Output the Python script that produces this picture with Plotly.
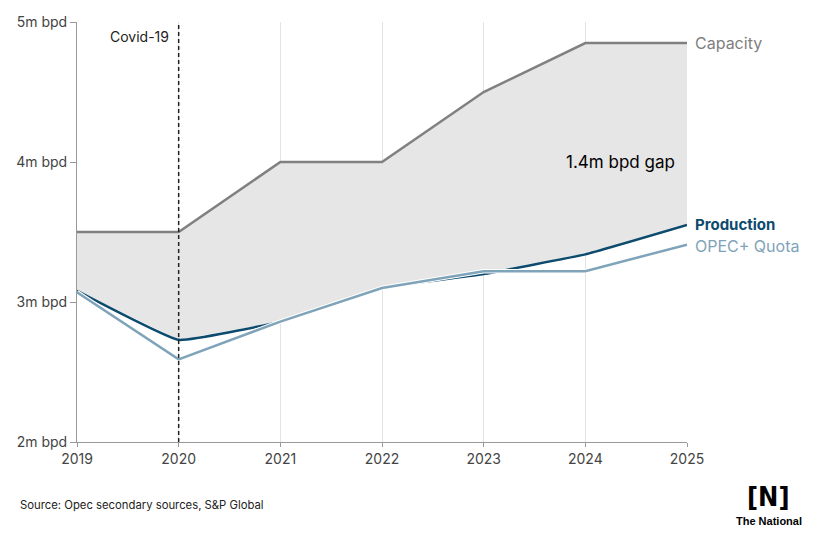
import plotly.graph_objects as go

years = [2019, 2020, 2021, 2022, 2023, 2024, 2025]
capacity = [3.5, 3.5, 4.0, 4.0, 4.5, 4.85, 4.85]
production = [3.08, 2.73, 2.86, 3.1, 3.2, 3.34, 3.55]
quota = [3.07, 2.59, 2.86, 3.1, 3.22, 3.22, 3.41]
y_ticks = [2, 3, 4, 5]
y_tick_labels = ["2m bpd", "3m bpd", "4m bpd", "5m bpd"]

CAP_C = "#808080"
PROD_C = "#0c4a6e"
QUOTA_C = "#7fa3b9"
FONT = "Inter"

fig = go.Figure()
# fill between capacity and production
fig.add_trace(go.Scatter(x=years, y=production, mode="lines",
                         line=dict(width=0, color=PROD_C), showlegend=False, hoverinfo="skip"))
fig.add_trace(go.Scatter(x=years, y=capacity, mode="lines", fill="tonexty",
                         fillcolor="#e6e6e6", line=dict(width=0, color=CAP_C),
                         showlegend=False, hoverinfo="skip"))
# lines
fig.add_trace(go.Scatter(x=years, y=capacity, mode="lines",
                         line=dict(width=2.5, color=CAP_C), showlegend=False))
fig.add_trace(go.Scatter(x=years, y=production, mode="lines",
                         line=dict(width=2.5, color=PROD_C, shape="spline", smoothing=0.3),
                         showlegend=False))
fig.add_trace(go.Scatter(x=years, y=quota, mode="lines",
                         line=dict(width=4.5, color="white"), showlegend=False, hoverinfo="skip"))
fig.add_trace(go.Scatter(x=years, y=quota, mode="lines",
                         line=dict(width=2.5, color=QUOTA_C), showlegend=False))

# covid line
fig.add_shape(type="line", x0=2020, x1=2020, y0=2, y1=5, xref="x", yref="y",
              line=dict(color="#222222", width=1.5, dash="4px,3px"))

annos = [
    dict(x=2020, y=4.9, text="Covid-19", xanchor="right", xshift=-8, font=dict(size=14, color="#222222")),
    dict(x=2025, y=capacity[-1], text="Capacity", xanchor="left", xshift=6, font=dict(size=16, color=CAP_C)),
    dict(x=2025, y=production[-1], text="<b>Production</b>", xanchor="left", xshift=6, yshift=1, font=dict(size=15, color=PROD_C)),
    dict(x=2025, y=quota[-1], text="OPEC+ Quota", xanchor="left", xshift=6, yshift=-1, font=dict(size=16, color=QUOTA_C)),
    dict(x=2024.9, y=4.0, text="1.4m bpd gap", xanchor="right", font=dict(size=17, color="#000000")),
]
for a in annos:
    fig.add_annotation(xref="x", yref="y", showarrow=False, yanchor="middle", **a)

fig.add_annotation(xref="paper", yref="paper", x=-0.097, y=-0.151, xanchor="left", yanchor="middle",
                   text="Source: Opec secondary sources, S&P Global", showarrow=False,
                   font=dict(size=11.3, color="#222222"))
# logo
fig.add_annotation(xref="paper", yref="paper", x=1.134, y=-0.129, xanchor="center", yanchor="middle",
                   text="<b>[N]</b>", showarrow=False,
                   font=dict(size=27, color="black", family="DejaVu Sans Condensed, DejaVu Sans"))
fig.add_annotation(xref="paper", yref="paper", x=1.134, y=-0.189, xanchor="center", yanchor="middle",
                   text="<b>The National</b>", showarrow=False,
                   font=dict(size=11, color="black", family="Liberation Sans"))

fig.update_layout(
    width=805, height=530,
    margin=dict(l=69, r=126, t=14, b=96),
    paper_bgcolor="white", plot_bgcolor="white",
    font=dict(family=FONT, color="#444444", size=13),
    xaxis=dict(range=[2019, 2025], tickvals=years, showgrid=True, gridcolor="#e3e3e3", gridwidth=1,
               showline=True, linecolor="#999999", linewidth=1, ticks="outside", ticklen=4,
               tickcolor="#999999", zeroline=False, automargin=False,
               tickfont=dict(size=14, color="#444444")),
    yaxis=dict(range=[2, 5], tickvals=y_ticks, ticktext=y_tick_labels, showgrid=False,
               showline=True, linecolor="#999999", linewidth=1, ticks="outside", ticklen=6,
               tickcolor="#999999", zeroline=False, automargin=False,
               tickfont=dict(size=14, color="#444444")),
)

fig.write_html("out.html")
